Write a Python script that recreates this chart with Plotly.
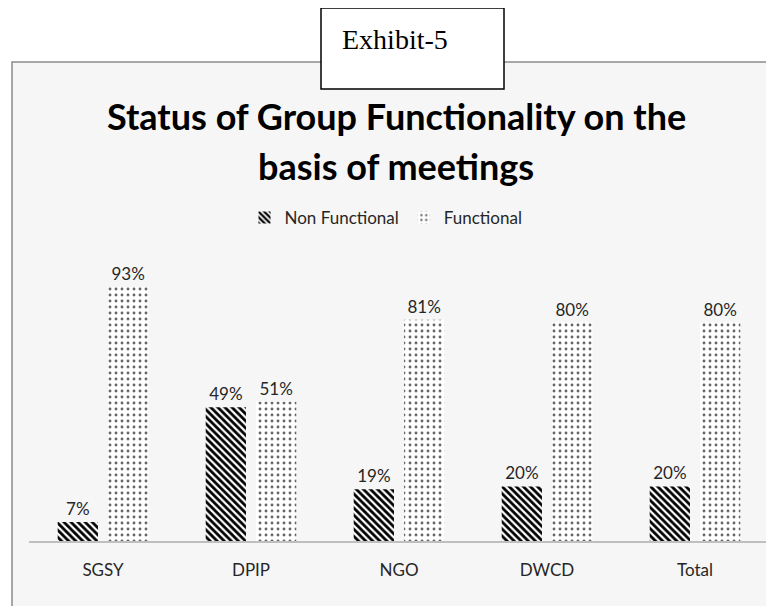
import plotly.graph_objects as go

W, H = 774, 606
OFF = 8  # the page body margin shifts the figure by 8px

categories = ['SGSY', 'DPIP', 'NGO', 'DWCD', 'Total']
non_functional = [7, 49, 19, 20, 20]
functional = [93, 51, 81, 80, 80]

FW, FH = W - OFF, H - OFF


def px_x(x):
    return (x - OFF) / FW


def px_y(y):
    return 1 - (y - OFF) / FH


label_font = dict(family='Lato, Open Sans, sans-serif', size=17, color='#262626')
title_font = dict(family='Lato, Open Sans, sans-serif', size=36, color='black')

fig = go.Figure()
fig.add_trace(go.Bar(
    x=categories, y=non_functional, name='Non Functional',
    marker=dict(color='white', line=dict(width=0),
                pattern=dict(shape='\\', fgcolor='black', bgcolor='white', size=5,
                             solidity=0.55, fgopacity=1)),
    text=[f'{v}%' for v in non_functional], textposition='outside',
    textfont=label_font, cliponaxis=False))
fig.add_trace(go.Bar(
    x=categories, y=functional, name='Functional',
    marker=dict(color='white', line=dict(width=0),
                pattern=dict(shape='.', fgcolor='#666666', bgcolor='white', size=6,
                             solidity=0.18, fgopacity=1)),
    text=[f'{v}%' for v in functional], textposition='outside',
    textfont=label_font, cliponaxis=False))

# background panel + Exhibit box
fig.add_shape(type='rect', xref='paper', yref='paper',
              x0=px_x(12), x1=px_x(800), y0=px_y(640), y1=px_y(62),
              fillcolor='#f6f6f6', line=dict(color='#8c8c8c', width=1.5), layer='below')
fig.add_shape(type='rect', xref='paper', yref='paper',
              x0=px_x(321), x1=px_x(504), y0=px_y(89), y1=px_y(8),
              fillcolor='white', line=dict(color='black', width=1.5))
fig.add_annotation(text='Exhibit-5', xref='paper', yref='paper', x=px_x(340), y=px_y(40),
                   xanchor='left', yanchor='middle', showarrow=False,
                   font=dict(family='Liberation Serif, Times New Roman, serif', size=28, color='black'))
fig.add_annotation(text='<b>Status of Group Functionality on the</b>',
                   xref='paper', yref='paper', x=px_x(396), y=px_y(116),
                   xanchor='center', yanchor='middle', showarrow=False, font=title_font)
fig.add_annotation(text='<b>basis of meetings</b>',
                   xref='paper', yref='paper', x=px_x(396), y=px_y(166),
                   xanchor='center', yanchor='middle', showarrow=False, font=title_font)

fig.update_layout(
    width=FW, height=FH,
    margin=dict(l=0, r=0, t=0, b=0),
    paper_bgcolor='white', plot_bgcolor='rgba(0,0,0,0)',
    barmode='group', bargap=0.32, bargroupgap=0.2,
    showlegend=True,
    legend=dict(orientation='h', x=px_x(386), y=px_y(218), xanchor='center', yanchor='middle',
                font=label_font, bgcolor='rgba(0,0,0,0)', itemwidth=30),
    font=label_font,
)
fig.update_xaxes(domain=[px_x(29), px_x(769)], showline=True, linecolor='#bfbfbf', linewidth=1.5,
                 ticks='', tickfont=label_font, ticklabelstandoff=13, showgrid=False)
fig.update_yaxes(domain=[px_y(541), px_y(268)], range=[0, 100], visible=False, showgrid=False)

fig.write_html('out.html')
